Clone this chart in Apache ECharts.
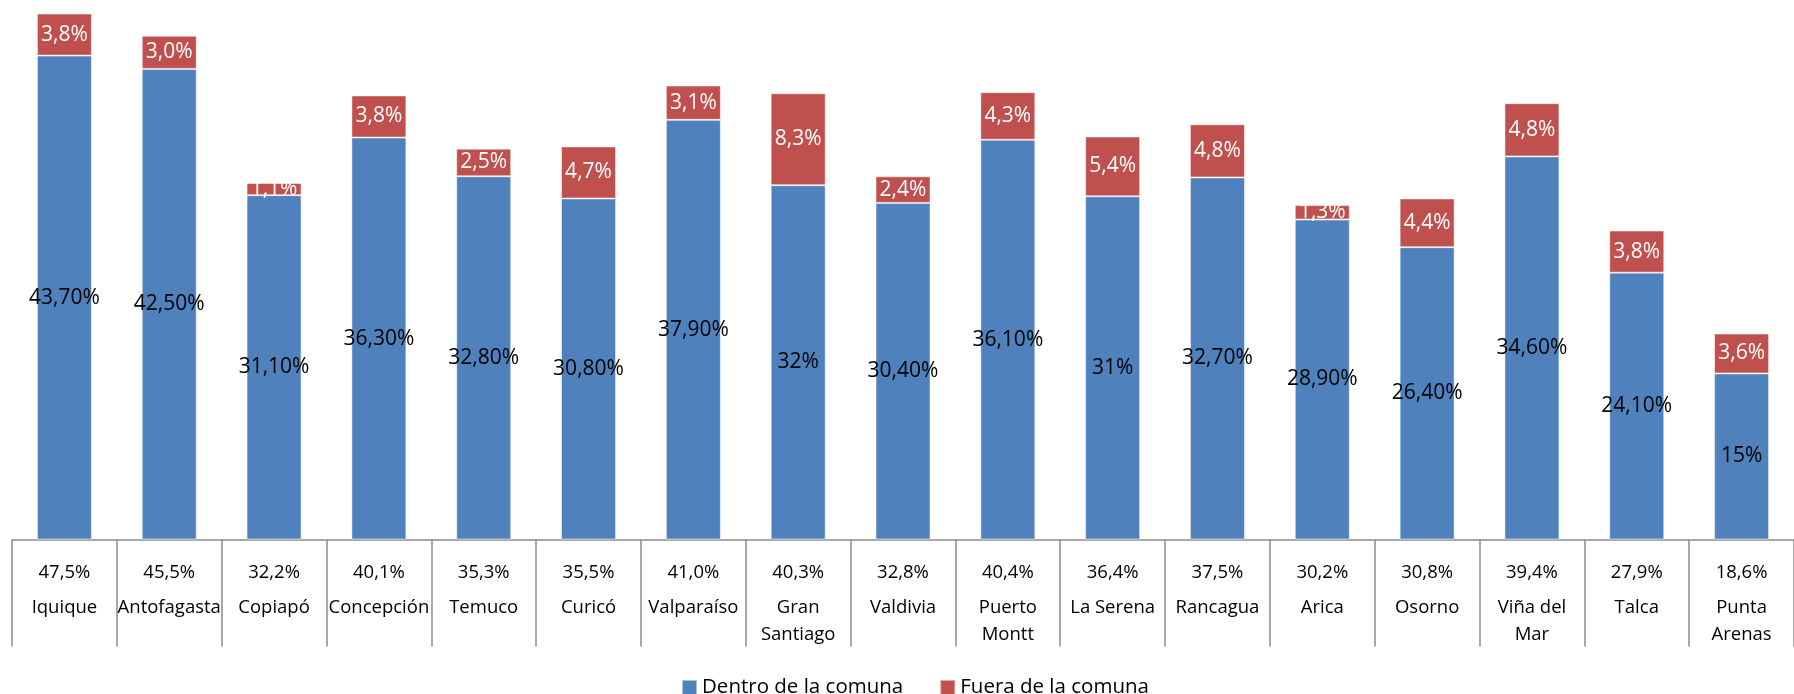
<!DOCTYPE html>
<html>
<head>
<meta charset="utf-8">
<script src="https://cdn.jsdelivr.net/npm/echarts@6/dist/echarts.min.js"></script>
<style>html,body{margin:0;padding:0;background:#fff}#c{width:1794px;height:694px}</style>
</head>
<body>
<div id="c"></div>
<script>
const categories = ["Iquique","Antofagasta","Copiapó","Concepción","Temuco","Curicó","Valparaíso","Gran\nSantiago","Valdivia","Puerto\nMontt","La Serena","Rancagua","Arica","Osorno","Viña del\nMar","Talca","Punta\nArenas"];
const dentro = [43.7,42.5,31.1,36.3,32.8,30.8,37.9,32,30.4,36.1,31,32.7,28.9,26.4,34.6,24.1,15];
const dentroLabels = ["43,70%","42,50%","31,10%","36,30%","32,80%","30,80%","37,90%","32%","30,40%","36,10%","31%","32,70%","28,90%","26,40%","34,60%","24,10%","15%"];
const fuera = [3.8,3.0,1.1,3.8,2.5,4.7,3.1,8.3,2.4,4.3,5.4,4.8,1.3,4.4,4.8,3.8,3.6];
const fueraLabels = ["3,8%","3,0%","1,1%","3,8%","2,5%","4,7%","3,1%","8,3%","2,4%","4,3%","5,4%","4,8%","1,3%","4,4%","4,8%","3,8%","3,6%"];
const totalLabels = ["47,5%","45,5%","32,2%","40,1%","35,3%","35,5%","41,0%","40,3%","32,8%","40,4%","36,4%","37,5%","30,2%","30,8%","39,4%","27,9%","18,6%"];

const FONT = "'Open Sans', 'Noto Sans', sans-serif";
const chart = echarts.init(document.getElementById('c'), null, {renderer: 'canvas'});
chart.setOption({
  animation: false,
  textStyle: {fontFamily: FONT},
  grid: {left: 12, top: 8, width: 1800, height: 531.5, containLabel: false},
  legend: {
    left: 676, top: 672,
    itemWidth: 15, itemHeight: 15, itemGap: 36,
    icon: 'rect',
    textStyle: {fontFamily: FONT, fontSize: 20.5, color: '#000'},
    data: ['Dentro de la comuna', 'Fuera de la comuna']
  },
  xAxis: {
    type: 'category',
    data: categories,
    boundaryGap: true,
    axisLine: {lineStyle: {color: '#8c8c8c', width: 1.5}},
    axisTick: {show: true, length: 107, lineStyle: {color: '#8c8c8c', width: 1.5}},
    axisLabel: {
      interval: 0,
      margin: 12,
      fontFamily: FONT,
      color: '#000',
      formatter: function (v, i) {
        const parts = v.split('\n').map(p => '{n|' + p + '}');
        return '{v|' + totalLabels[i] + '}\n' + parts.join('\n');
      },
      rich: {
        v: {fontSize: 18.5, lineHeight: 43, fontFamily: FONT, color: '#000'},
        n: {fontSize: 18.5, lineHeight: 27, fontFamily: FONT, color: '#000'}
      }
    }
  },
  yAxis: {
    type: 'value', min: 0, max: 48,
    show: false,
    splitLine: {show: false}
  },
  series: [
    {
      name: 'Dentro de la comuna',
      type: 'bar', stack: 'a', barWidth: 55,
      data: dentro,
      itemStyle: {color: '#4F81BD', borderColor: 'rgba(255,255,255,0.5)', borderWidth: 1},
      label: {
        show: true, position: 'inside', color: '#000', fontSize: 21, fontFamily: FONT,
        formatter: p => dentroLabels[p.dataIndex]
      }
    },
    {
      name: 'Fuera de la comuna',
      type: 'bar', stack: 'a', barWidth: 55,
      data: fuera,
      itemStyle: {color: '#C0504D', borderColor: 'rgba(255,255,255,0.5)', borderWidth: 1},
      label: {
        show: true, position: 'inside', color: '#fff', fontSize: 21, fontFamily: FONT,
        formatter: p => fueraLabels[p.dataIndex]
      }
    }
  ]
});
</script>
</body>
</html>
